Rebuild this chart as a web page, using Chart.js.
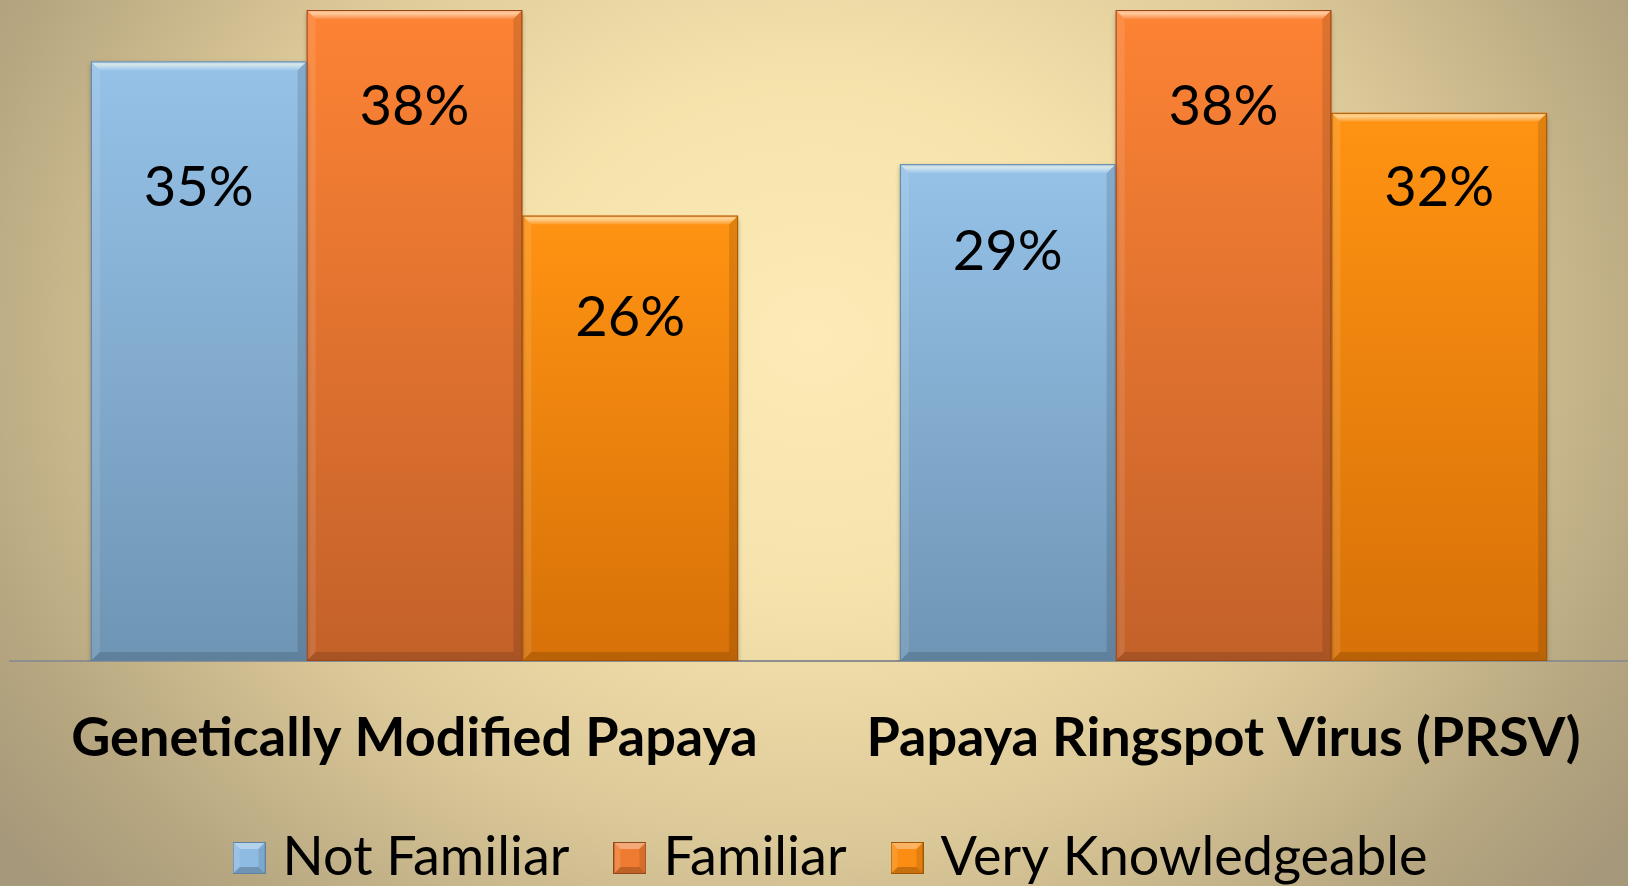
<!DOCTYPE html>
<html>
<head>
<meta charset="utf-8">
<title>Papaya familiarity</title>
<script src="https://cdn.jsdelivr.net/npm/chart.js@4.4.1/dist/chart.umd.min.js"></script>
<style>
  html, body { margin: 0; padding: 0; overflow: hidden; }
  body {
    width: 1628px;
    height: 886px;
    background: radial-gradient(ellipse 62% 95% at 50% 38%, #fcebb6 0%, #f6e3ac 30%, #dcc999 60%, #b8a881 85%, #a6987a 100%);
  }
  canvas { display: block; }
</style>
</head>
<body>
<canvas id="chart" width="1628" height="895"></canvas>
<script>
const categories = ['Genetically Modified Papaya', 'Papaya Ringspot Virus (PRSV)']
const seriesNames = ['Not Familiar', 'Familiar', 'Very Knowledgeable']
const notFamiliar = [35, 29]
const familiar = [38, 38]
const veryKnowledgeable = [26, 32]

// value labels were nudged by hand in the original, px below each bar top
const labelDrop = [[127, 88], [97, 97], [102, 75]]

const palette = [
    { top: '#96c2e8', bottom: '#6f95b4', edge: '#5f84a3', key: '#8dbbe2' },
    { top: '#fd8334', bottom: '#c3612a', edge: '#95461a', key: '#ef7b31' },
    { top: '#ff9312', bottom: '#d77108', edge: '#a45503', key: '#fa8d12' }
]

function barGradient(i) {
    return (ctx) => {
        const chart = ctx.chart
        const y = chart.scales && chart.scales.y
        if (!chart.chartArea || !y || ctx.parsed === undefined) return palette[i].top
        const top = y.getPixelForValue(ctx.parsed.y)
        const base = y.getPixelForValue(0)
        const g = chart.ctx.createLinearGradient(0, top, 0, base)
        g.addColorStop(0, palette[i].top)
        g.addColorStop(1, palette[i].bottom)
        return g
    }
}

function poly(ctx, pts, fill) {
    ctx.beginPath()
    ctx.moveTo(pts[0][0], pts[0][1])
    for (let k = 1; k < pts.length; k++) ctx.lineTo(pts[k][0], pts[k][1])
    ctx.closePath()
    ctx.fillStyle = fill
    ctx.fill()
}

function bevel(ctx, l, t, r, btm, b) {
    const tg = ctx.createLinearGradient(0, t, 0, t + b)
    tg.addColorStop(0, 'rgba(255,255,255,0.3)')
    tg.addColorStop(0.35, 'rgba(255,255,230,0.6)')
    tg.addColorStop(1, 'rgba(255,255,255,0.08)')
    poly(ctx, [[l, t], [r, t], [r - b, t + b], [l + b, t + b]], tg)
    poly(ctx, [[l, t], [l + b, t + b], [l + b, btm - b], [l, btm]], 'rgba(255,255,255,0.1)')
    poly(ctx, [[r, t], [r - b, t + b], [r - b, btm - b], [r, btm]], 'rgba(0,0,0,0.12)')
    poly(ctx, [[l, btm], [l + b, btm - b], [r - b, btm - b], [r, btm]], 'rgba(0,0,0,0.14)')
}

// small bevelled squares for the legend, like the original keys
function legendKey(i) {
    const c = document.createElement('canvas')
    c.width = 33
    c.height = 32
    const k = c.getContext('2d')
    k.fillStyle = palette[i].key
    k.fillRect(0, 0, 33, 32)
    poly(k, [[0, 0], [33, 0], [16.5, 16]], 'rgba(255,255,255,0.35)')
    poly(k, [[0, 0], [16.5, 16], [0, 32]], 'rgba(255,255,255,0.12)')
    poly(k, [[33, 0], [16.5, 16], [33, 32]], 'rgba(0,0,0,0.1)')
    poly(k, [[0, 32], [16.5, 16], [33, 32]], 'rgba(0,0,0,0.2)')
    k.fillStyle = palette[i].key
    k.fillRect(7, 7, 19, 18)
    k.strokeStyle = palette[i].edge
    k.lineWidth = 1
    k.strokeRect(0.5, 0.5, 32, 31)
    return c
}
const legendKeys = seriesNames.map((n, i) => legendKey(i))

const bevelPlugin = {
    id: 'bevel',
    afterLayout(chart) {
        // the original legend sits a little right of centre
        chart.legend.left += 16
        chart.legend.right += 16
    },
    beforeDatasetsDraw(chart) {
        const ctx = chart.ctx
        ctx.save()
        ctx.shadowColor = 'rgba(0,0,0,0.35)'
        ctx.shadowBlur = 5
        ctx.shadowOffsetY = 3
    },
    afterDatasetsDraw(chart) {
        const ctx = chart.ctx
        ctx.restore()
        chart.data.datasets.forEach((ds, i) => {
            chart.getDatasetMeta(i).data.forEach((bar, j) => {
                const { x, y, base, width } = bar.getProps(['x', 'y', 'base', 'width'], true)
                const l = x - width / 2, r = x + width / 2
                ctx.save()
                bevel(ctx, l, y, r, base, 9)
                ctx.strokeStyle = palette[i].edge
                ctx.lineWidth = 1
                ctx.strokeRect(l + 0.5, y + 0.5, width - 1, base - y - 1)

                ctx.fillStyle = '#000'
                ctx.font = '56px Lato'
                ctx.textAlign = 'center'
                ctx.textBaseline = 'middle'
                ctx.fillText(ds.data[j] + '%', x, y + labelDrop[i][j])
                ctx.restore()
            })
        })
    }
}

const seriesValues = [notFamiliar, familiar, veryKnowledgeable]

new Chart(document.getElementById('chart'), {
    type: 'bar',
    data: {
        labels: categories,
        datasets: seriesNames.map((name, i) => ({
            label: name,
            data: seriesValues[i],
            backgroundColor: barGradient(i),
            borderWidth: 0,
            categoryPercentage: 0.8,
            barPercentage: 1.0
        }))
    },
    plugins: [bevelPlugin],
    options: {
        responsive: false,
        animation: false,
        layout: { padding: { left: 10, top: 10, right: 0, bottom: 0 } },
        scales: {
            y: { display: false, min: 0, max: 38 },
            x: {
                grid: { display: false, drawTicks: false },
                border: { display: true, color: '#8e8e8e', width: 2 },
                ticks: {
                    color: '#000',
                    padding: 45,
                    font: { family: 'Lato', weight: 'bold', size: 54 }
                },
                afterFit(scale) { scale.height = 116 }
            }
        },
        plugins: {
            tooltip: { enabled: false },
            legend: {
                position: 'bottom',
                labels: {
                    color: '#000',
                    usePointStyle: true,
                    pointStyleWidth: 13,
                    boxHeight: 32,
                    padding: 54,
                    font: { family: 'Lato', size: 54 },
                    generateLabels: (chart) => chart.data.datasets.map((ds, i) => ({
                        text: ds.label,
                        pointStyle: legendKeys[i],
                        fillStyle: palette[i].key,
                        strokeStyle: palette[i].edge,
                        lineWidth: 1,
                        fontColor: '#000',
                        hidden: false,
                        datasetIndex: i
                    }))
                }
            }
        }
    }
})
</script>
</body>
</html>
